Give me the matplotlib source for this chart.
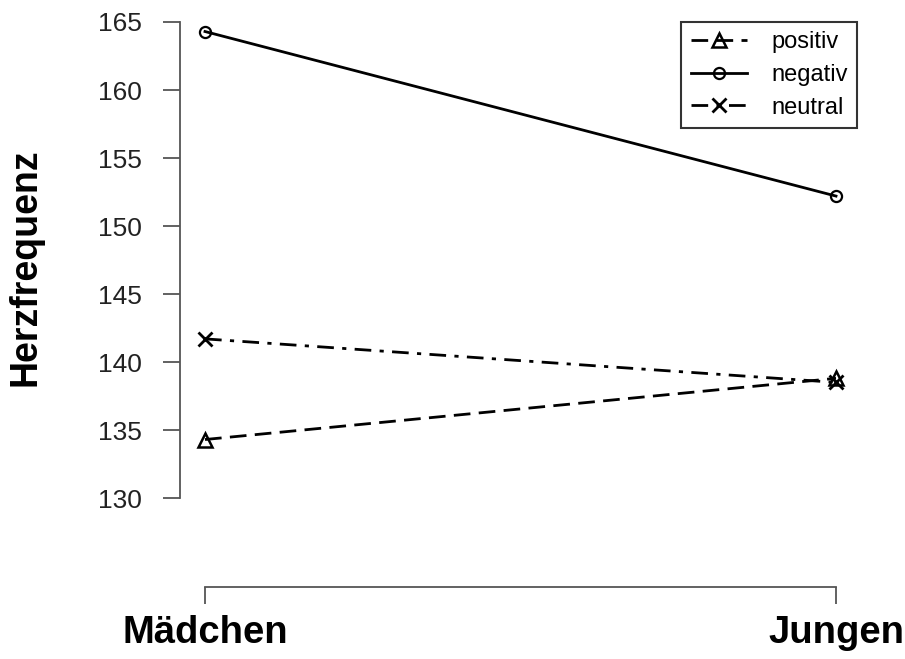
import matplotlib
matplotlib.use('Agg')
import matplotlib.pyplot as plt

# ---- data ----
groups = ['Mädchen', 'Jungen']
positiv = [134.3, 138.8]
negativ = [164.3, 152.2]
neutral = [141.7, 138.5]
yticks = [130, 135, 140, 145, 150, 155, 160, 165]

plt.rcParams['font.family'] = ['Liberation Sans', 'DejaVu Sans']

W, H = 905, 659
fig = plt.figure(figsize=(W / 100, H / 100), dpi=100)
# axes box in pixels: left 180, right 861, top 10, bottom 587
ax = fig.add_axes([180 / W, (H - 587) / H, (861 - 180) / W, (587 - 10) / H])

xs = [1, 2]
ax.plot(xs, positiv, color='black', lw=2, ls=(0, (6, 3)), marker='^',
        ms=10, mfc='none', mew=1.8, label='positiv')
ax.plot(xs, negativ, color='black', lw=2, ls='-', marker='o',
        ms=8, mfc='none', mew=1.6, label='negativ')
ax.plot(xs, neutral, color='black', lw=2, ls=(0, (6, 3, 1.5, 3)), marker='x',
        ms=10, mew=2, label='neutral')

ax.set_xlim(1 - 25 / 631, 2 + 25 / 631)
ax.set_ylim(130 - 89 / 13.6, 165 + 12 / 13.6)

for s in ['top', 'right']:
    ax.spines[s].set_visible(False)
for s in ['left', 'bottom']:
    ax.spines[s].set_color('#555555')
    ax.spines[s].set_linewidth(1.3)
ax.spines['left'].set_bounds(130, 165)
ax.spines['bottom'].set_bounds(1, 2)

ax.set_yticks(yticks)
ax.set_yticklabels([str(v) for v in yticks])
ax.set_xticks(xs)
ax.set_xticklabels(groups, fontsize=27.5, fontweight='bold')
ax.tick_params(axis='y', direction='out', length=12.5, width=1.3,
               color='#555555', labelsize=19, pad=15, labelcolor='#222222')
ax.tick_params(axis='x', direction='out', length=12.5, width=1.3,
               color='#555555', pad=8)

ax.set_ylabel('Herzfrequenz', fontsize=27, fontweight='bold')
ax.yaxis.set_label_coords(-0.2, (587 - 267) / 577)

leg = ax.legend(loc='upper right', bbox_to_anchor=(857 / W, 1 - 22 / H),
                bbox_transform=fig.transFigure, fontsize=17, frameon=True,
                fancybox=False, handlelength=2.4, handletextpad=1.0,
                borderpad=0.4, labelspacing=0.45, borderaxespad=0)
leg.get_frame().set_edgecolor('black')
leg.get_frame().set_linewidth(1.5)

fig.savefig('out.png', dpi=100)
